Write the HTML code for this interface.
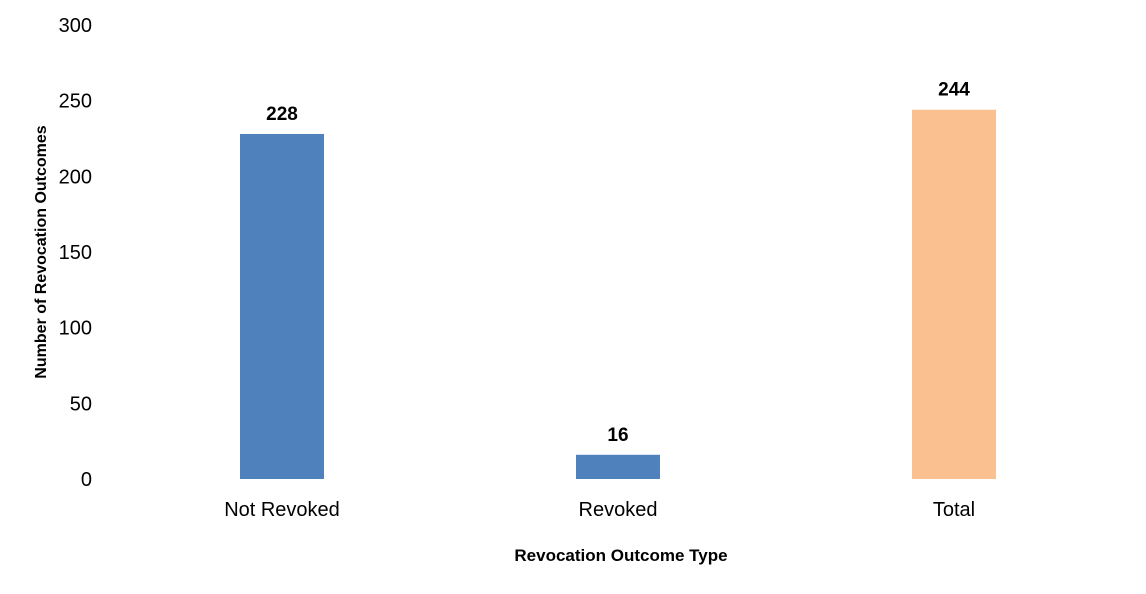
<!DOCTYPE html>
<html><head><meta charset="utf-8"><style>
body{margin:0;background:#fff;}
svg{display:block;font-family:"Liberation Sans",Arial,sans-serif;}
</style></head><body>
<svg id="chart" width="1146" height="594"></svg>
<script>
const categories=["Not Revoked","Revoked","Total"];
const values=[228,16,244];
const colors=["#4f81bd","#4f81bd","#fac090"];
const yTicks=[0,50,100,150,200,250,300];
const svg=document.getElementById('chart');
const NS="http://www.w3.org/2000/svg";
const x0=114,x1=1122,y0=479,yTop=25,yMax=300;
const yScale=v=>y0-(v/yMax)*(y0-yTop);
const band=(x1-x0)/categories.length;
const xCenter=i=>x0+band*(i+0.5);
const barW=band*0.25;
function mk(tag,attrs,text){const e=document.createElementNS(NS,tag);for(const k in attrs)e.setAttribute(k,attrs[k]);if(text!==undefined)e.textContent=text;svg.appendChild(e);return e;}
yTicks.forEach(t=>{
  const e=mk('text',{x:92,y:yScale(t)+7,'text-anchor':'end','font-size':20,fill:'#000'},t);
  
  
});
categories.forEach((c,i)=>{
  const r=mk('rect',{x:xCenter(i)-barW/2,y:yScale(values[i]),width:barW,height:y0-yScale(values[i]),fill:colors[i]});
  
  
  const l=mk('text',{x:xCenter(i),y:yScale(values[i])-14,'text-anchor':'middle','font-size':19,'font-weight':'bold',fill:'#000'},values[i]);
  
  
  const xl=mk('text',{x:xCenter(i),y:516,'text-anchor':'middle','font-size':20,fill:'#000'},c);
  
  
});
const xt=mk('text',{x:621,y:561,'text-anchor':'middle','font-size':17,'font-weight':'bold',fill:'#000'},'Revocation Outcome Type');


const yt=mk('text',{x:0,y:0,'text-anchor':'middle','font-size':16,'font-weight':'bold',fill:'#000',transform:'translate(46,252) rotate(-90)'},'Number of Revocation Outcomes');


</script>
</body></html>
